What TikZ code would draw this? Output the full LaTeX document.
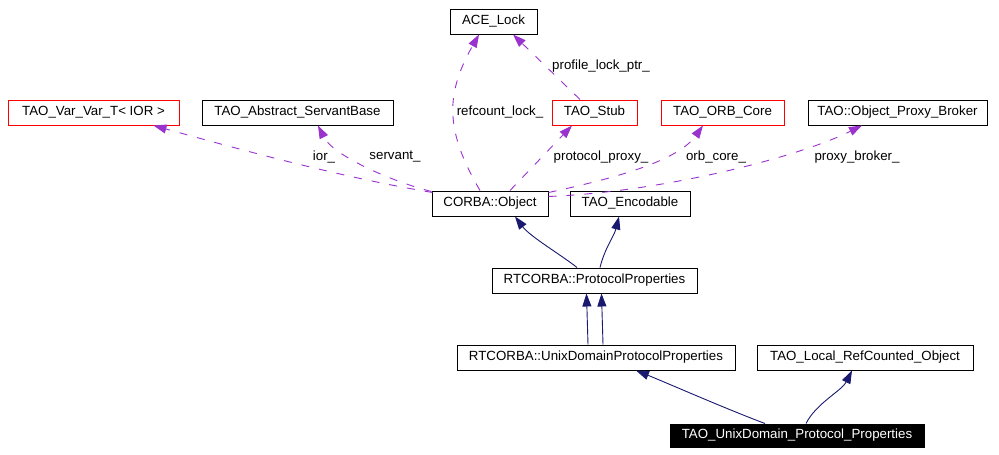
\documentclass[tikz,border=0pt]{standalone}
\usepackage{fontspec}
\setmainfont{Liberation Sans}
\usetikzlibrary{arrows.meta}
\definecolor{usecol}{HTML}{9A32CD}
\definecolor{inhcol}{HTML}{191970}

\begin{document}
\begin{tikzpicture}[x=1pt,y=-1pt,
  cls/.style={draw=black,line width=1pt,minimum height=25pt,inner sep=0pt,font=\fontsize{13.3}{15}\selectfont},
  redcls/.style={cls,draw=red},
  lbl/.style={inner sep=0pt,font=\fontsize{13.3}{15}\selectfont},
  usage/.style={usecol,line width=0.9pt,dash pattern=on 8pt off 10pt,-{Triangle[length=13pt,width=9pt]}},
  inherit/.style={inhcol,line width=0.9pt,-{Triangle[length=13pt,width=9pt]}}]
\useasboundingbox (0,0) rectangle (999,455);
\node[cls,minimum width=87pt] (lock) at (493.5,21.5){ACE\_Lock};
\node[redcls,minimum width=171pt] (var) at (93.5,112.5){TAO\_Var\_Var\_T< IOR >};
\node[cls,minimum width=191pt] (servant) at (297.5,112.5){TAO\_Abstract\_ServantBase};
\node[redcls,minimum width=85pt] (stub) at (594.5,112.5){TAO\_Stub};
\node[redcls,minimum width=123pt] (orb) at (722.5,112.5){TAO\_ORB\_Core};
\node[cls,minimum width=179pt] (broker) at (897.5,112.5){TAO::Object\_Proxy\_Broker};
\node[cls,minimum width=116pt] (obj) at (490,203.5){CORBA::Object};
\node[cls,minimum width=120pt] (enc) at (630,203.5){TAO\_Encodable};
\node[cls,minimum width=205pt] (proto) at (594.5,280.5){RTCORBA::ProtocolProperties};
\node[cls,minimum width=278pt] (unixp) at (596,357.5){RTCORBA::UnixDomainProtocolProperties};
\node[cls,minimum width=216pt] (local) at (865,357.5){TAO\_Local\_RefCounted\_Object};
\node[cls,minimum width=254pt,minimum height=23pt,fill=black,text=white] (self) at (797,435.5){TAO\_UnixDomain\_Protocol\_Properties};
\draw[usage] ([xshift=1pt,yshift=-2pt]obj.north west) .. controls +(-90,-15) and +(90,25) .. ([xshift=60pt]var.south);
\draw[usage] ([yshift=-1pt]obj.north west) .. controls +(-40,-10) and +(15,30) .. ([xshift=20.5pt]servant.south);
\draw[usage] ([xshift=-10pt]obj.north) .. controls +(-35,-60) and +(-34,60) .. ([xshift=-14.5pt]lock.south);
\draw[usage] ([xshift=-14.5pt]stub.north) -- ([xshift=19.5pt]lock.south);
\draw[usage] ([xshift=20pt]obj.north) -- ([xshift=-22.5pt]stub.south);
\draw[usage] ([yshift=-2pt]obj.north east) .. controls +(70,-15) and +(-25,35) .. ([xshift=-19.5pt]orb.south);
\draw[usage] ([yshift=-6pt]obj.north east) .. controls +(120,-5) and +(-60,30) .. ([xshift=-35.5pt]broker.south);
\node[lbl] (ior) at (324,157){ior\_};
\node[lbl] (srv) at (395,157){servant\_};
\node[lbl] (rcl) at (500,112){refcount\_lock\_};
\node[lbl] (plp) at (601,66){profile\_lock\_ptr\_};
\node[lbl] (pp) at (601,157){protocol\_proxy\_};
\node[lbl] (oc) at (716,157){orb\_core\_};
\node[lbl] (pb) at (857,157){proxy\_broker\_};
\draw[inherit] ([xshift=-17.5pt]proto.north) .. controls +(-15,-12) and +(15,20) .. ([xshift=25pt]obj.south);
\draw[inherit] ([xshift=5.5pt]proto.north) .. controls +(5,-20) and +(-5,20) .. ([xshift=-11pt]enc.south);
\draw[inherit] ([xshift=-8pt]unixp.north) -- ([xshift=-8pt]proto.south);
\draw[inherit] ([xshift=7pt]unixp.north) -- ([xshift=7pt]proto.south);
\draw[inherit] ([xshift=-32pt]self.north) .. controls +(-40,-15) and +(30,12) .. ([xshift=40pt]unixp.south);
\draw[inherit] ([xshift=9pt]self.north) .. controls +(10,-20) and +(-10,20) .. ([xshift=-13pt]local.south);
\end{tikzpicture}
\end{document}
